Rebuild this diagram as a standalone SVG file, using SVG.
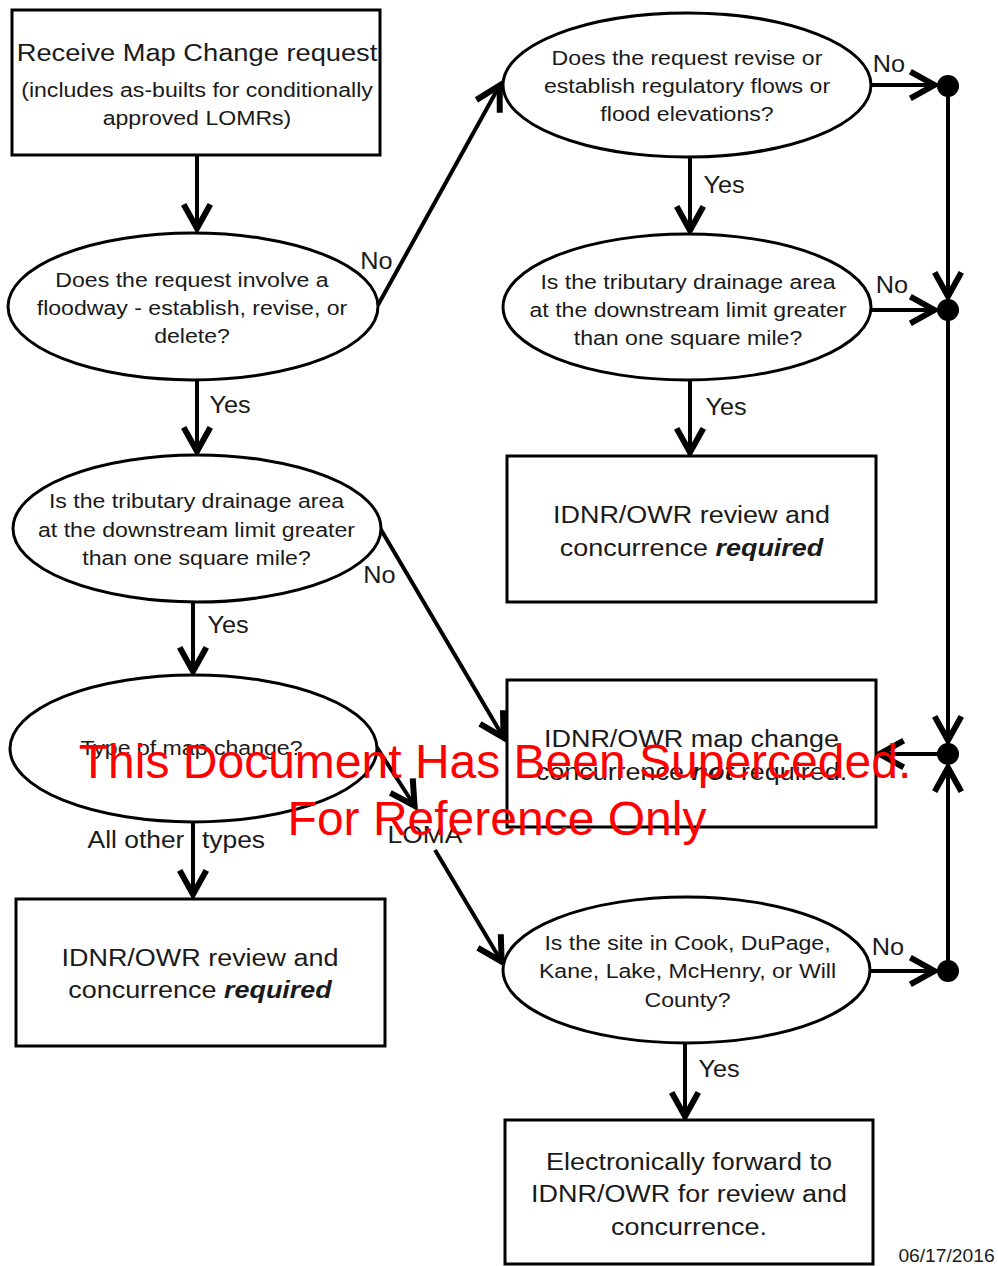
<svg xmlns="http://www.w3.org/2000/svg" width="998" height="1266" viewBox="0 0 998 1266">
<defs>
<style>
.shape{fill:#fff;stroke:#000;stroke-width:3}
.t{font-family:"Liberation Sans",Arial,sans-serif;fill:#1a1a1a;text-anchor:middle}
.s21{font-size:21px}
.s25{font-size:24.5px}
.lbl{font-family:"Liberation Sans",Arial,sans-serif;fill:#1a1a1a;text-anchor:middle;font-size:23px}
.bi{font-weight:bold;font-style:italic}
.c{fill:none;stroke:#000;stroke-width:4}
.dot{fill:#000}
.wm{font-family:"Liberation Sans",Arial,sans-serif;fill:#ff0000;font-size:48px;text-anchor:middle}
</style>
<marker id="ah" markerUnits="userSpaceOnUse" markerWidth="40" markerHeight="40" viewBox="-25 -15 30 30" refX="0" refY="0" orient="auto" overflow="visible">
<path d="M-20,-10 L-2,0 L-20,10" fill="none" stroke="#000" stroke-width="4.5"/>
</marker>
</defs>
<rect width="998" height="1266" fill="#fff"/>

<g id="connectors">
<path class="c" d="M197,155 L197,231" marker-end="url(#ah)"/>
<path class="c" d="M378,305 L501,83" marker-end="url(#ah)"/>
<path class="c" d="M871,85 L937,85" marker-end="url(#ah)"/>
<path class="c" d="M948,86 L948,299" marker-end="url(#ah)"/>
<path class="c" d="M690,157 L690,233" marker-end="url(#ah)"/>
<path class="c" d="M871,310 L937,310" marker-end="url(#ah)"/>
<path class="c" d="M690,380 L690,455" marker-end="url(#ah)"/>
<path class="c" d="M948,310 L948,743" marker-end="url(#ah)"/>
<path class="c" d="M948,754 L877,754" marker-end="url(#ah)"/>
<path class="c" d="M948,971 L948,765" marker-end="url(#ah)"/>
<path class="c" d="M197,380 L197,454" marker-end="url(#ah)"/>
<path class="c" d="M380,528 L505,740" marker-end="url(#ah)"/>
<path class="c" d="M193,602 L193,674" marker-end="url(#ah)"/>
<path class="c" d="M193,822 L193,897" marker-end="url(#ah)"/>
<path class="c" d="M376,746 L416,808" marker-end="url(#ah)"/>
<path class="c" d="M435,850 L503,964" marker-end="url(#ah)"/>
<path class="c" d="M870,971 L937,971" marker-end="url(#ah)"/>
<path class="c" d="M685,1043 L685,1119" marker-end="url(#ah)"/>
<circle class="dot" cx="948" cy="86" r="11"/>
<circle class="dot" cx="948" cy="310" r="11"/>
<circle class="dot" cx="948" cy="754" r="11"/>
<circle class="dot" cx="948" cy="971" r="11"/>
<g transform="translate(376.5,0) scale(1.1,1)"><text class="lbl" x="0" y="269">No</text></g>
<g transform="translate(889,0) scale(1.1,1)"><text class="lbl" x="0" y="72">No</text></g>
<g transform="translate(892,0) scale(1.1,1)"><text class="lbl" x="0" y="293">No</text></g>
<g transform="translate(379.5,0) scale(1.1,1)"><text class="lbl" x="0" y="583">No</text></g>
<g transform="translate(888,0) scale(1.1,1)"><text class="lbl" x="0" y="955">No</text></g>
<g transform="translate(724,0) scale(1.1,1)"><text class="lbl" x="0" y="193">Yes</text></g>
<g transform="translate(726,0) scale(1.1,1)"><text class="lbl" x="0" y="415">Yes</text></g>
<g transform="translate(230,0) scale(1.1,1)"><text class="lbl" x="0" y="413">Yes</text></g>
<g transform="translate(228,0) scale(1.1,1)"><text class="lbl" x="0" y="633">Yes</text></g>
<g transform="translate(719,0) scale(1.1,1)"><text class="lbl" x="0" y="1077">Yes</text></g>
<g transform="translate(136,0) scale(1.1,1)"><text class="lbl" x="0" y="848" style="font-size:24px">All other</text></g>
<g transform="translate(233.5,0) scale(1.1,1)"><text class="lbl" x="0" y="848" style="font-size:24px">types</text></g>
<g transform="translate(425,0) scale(1.1,1)"><text class="lbl" x="0" y="843" style="font-size:24px">LOMA</text></g>
</g>

<g id="receive">
<rect class="shape" x="12" y="10" width="368" height="145"/>
<g transform="translate(197,0) scale(1.1,1)">
<text class="t" x="0" y="61" style="font-size:24.8px">Receive Map Change request</text>
<text class="t s21" x="0" y="97">(includes as-builts for conditionally</text>
<text class="t s21" x="0" y="125">approved LOMRs)</text>
</g>
</g>

<g id="floodway">
<ellipse class="shape" cx="193" cy="306.5" rx="185" ry="73.5"/>
<g transform="translate(192,0) scale(1.1,1)">
<text class="t s21" x="0" y="287">Does the request involve a</text>
<text class="t s21" x="0" y="315">floodway - establish, revise, or</text>
<text class="t s21" x="0" y="343">delete?</text>
</g>
</g>

<g id="regflows">
<ellipse class="shape" cx="687" cy="85" rx="184" ry="72"/>
<g transform="translate(687,0) scale(1.1,1)">
<text class="t s21" x="0" y="65">Does the request revise or</text>
<text class="t s21" x="0" y="93">establish regulatory flows or</text>
<text class="t s21" x="0" y="121">flood elevations?</text>
</g>
</g>

<g id="drainage-right">
<ellipse class="shape" cx="687" cy="307" rx="184" ry="73"/>
<g transform="translate(688,0) scale(1.1,1)">
<text class="t s21" x="0" y="289">Is the tributary drainage area</text>
<text class="t s21" x="0" y="317">at the downstream limit greater</text>
<text class="t s21" x="0" y="345">than one square mile?</text>
</g>
</g>

<g id="required-right">
<rect class="shape" x="507" y="456" width="369" height="146"/>
<g transform="translate(691.5,0) scale(1.1,1)">
<text class="t s25" x="0" y="523">IDNR/OWR review and</text>
<text class="t s25" x="0" y="556">concurrence <tspan class="bi">required</tspan></text>
</g>
</g>

<g id="drainage-left">
<ellipse class="shape" cx="197" cy="528.5" rx="184" ry="73.5"/>
<g transform="translate(196.5,0) scale(1.1,1)">
<text class="t s21" x="0" y="508">Is the tributary drainage area</text>
<text class="t s21" x="0" y="537">at the downstream limit greater</text>
<text class="t s21" x="0" y="565">than one square mile?</text>
</g>
</g>

<g id="not-required">
<rect class="shape" x="507" y="680" width="369" height="147"/>
<g transform="translate(691.5,0) scale(1.1,1)">
<text class="t s25" x="0" y="747">IDNR/OWR map change</text>
<text class="t s25" x="0" y="780">concurrence <tspan class="bi">not</tspan> required.</text>
</g>
</g>

<g id="maptype">
<ellipse class="shape" cx="193.5" cy="748.5" rx="183.5" ry="73.5"/>
<g transform="translate(191.5,0) scale(1.1,1)">
<text class="t s21" x="0" y="755">Type of map change?</text>
</g>
</g>

<g id="required-left">
<rect class="shape" x="16" y="899" width="369" height="147"/>
<g transform="translate(200,0) scale(1.1,1)">
<text class="t s25" x="0" y="966">IDNR/OWR review and</text>
<text class="t s25" x="0" y="998">concurrence <tspan class="bi">required</tspan></text>
</g>
</g>

<g id="county">
<ellipse class="shape" cx="686.5" cy="970" rx="183.5" ry="73"/>
<g transform="translate(687.5,0) scale(1.1,1)">
<text class="t s21" x="0" y="950">Is the site in Cook, DuPage,</text>
<text class="t s21" x="0" y="978">Kane, Lake, McHenry, or Will</text>
<text class="t s21" x="0" y="1007">County?</text>
</g>
</g>

<g id="forward">
<rect class="shape" x="505" y="1120" width="368" height="144"/>
<g transform="translate(689,0) scale(1.1,1)">
<text class="t s25" x="0" y="1170">Electronically forward to</text>
<text class="t s25" x="0" y="1202">IDNR/OWR for review and</text>
<text class="t s25" x="0" y="1235">concurrence.</text>
</g>
</g>

<g id="date" transform="translate(946.5,0) scale(1.1,1)">
<text class="t" x="0" y="1262" style="font-size:17.5px">06/17/2016</text>
</g>

<g id="watermark">
<text class="wm" x="495" y="778">This Document Has Been Superceded.</text>
<text class="wm" x="497" y="835">For Reference Only</text>
</g>
</svg>
